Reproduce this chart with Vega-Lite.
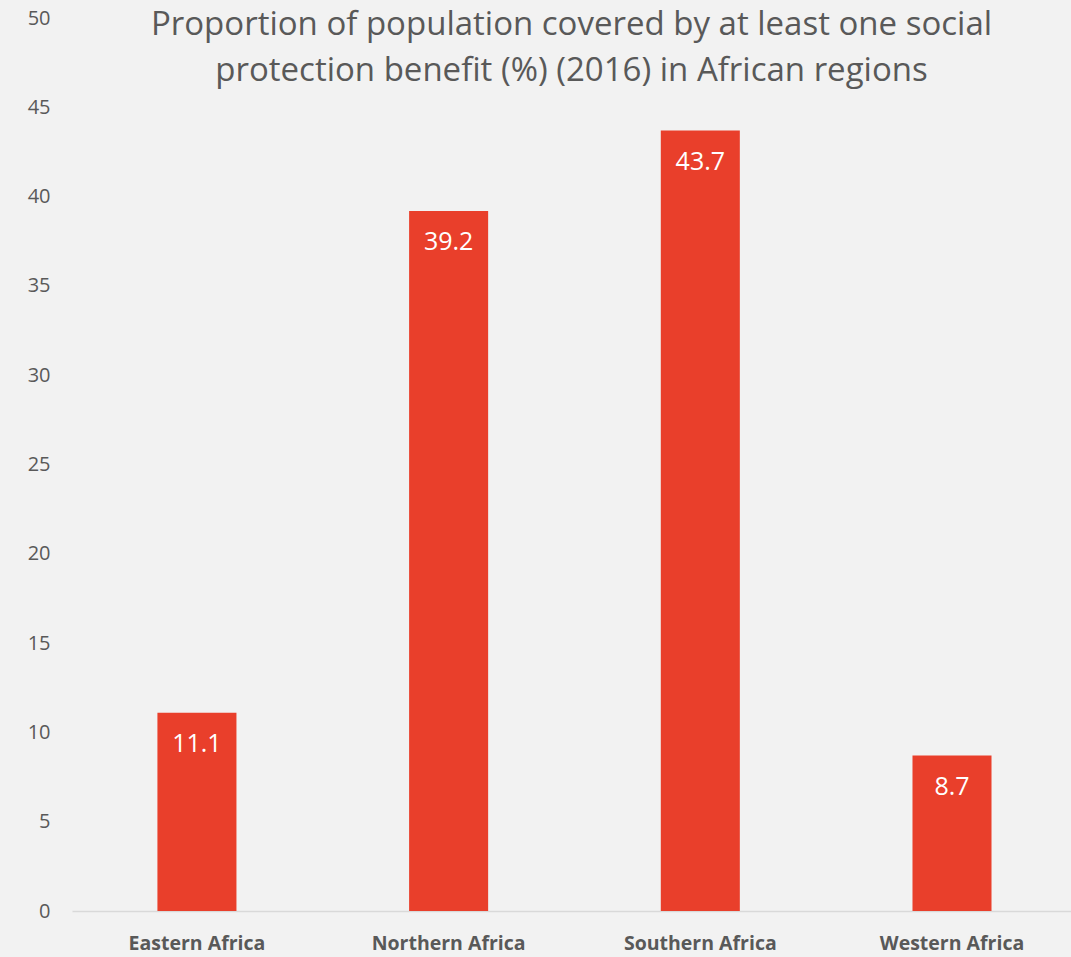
{
  "$schema": "https://vega.github.io/schema/vega-lite/v6.json",
  "autosize": {"type": "none"},
  "width": 999,
  "height": 893,
  "padding": {"left": 72, "top": 18, "right": 0, "bottom": 46},
  "background": "#f2f2f2",
  "config": {
    "view": {"stroke": null},
    "font": "Open Sans"
  },
  "title": {
    "text": ["Proportion of population covered by at least one social", "protection benefit (%) (2016) in African regions"],
    "anchor": "middle",
    "orient": "top",
    "offset": -80,
    "fontSize": 33,
    "fontWeight": "normal",
    "color": "#595959",
    "font": "Open Sans",
    "lineHeight": 46
  },
  "data": {
    "values": [
      {"region": "Eastern Africa", "value": 11.1},
      {"region": "Northern Africa", "value": 39.2},
      {"region": "Southern Africa", "value": 43.7},
      {"region": "Western Africa", "value": 8.7}
    ]
  },
  "encoding": {
    "x": {
      "field": "region",
      "type": "nominal",
      "sort": null,
      "scale": {"paddingInner": 0.686, "paddingOuter": 0.3276, "align": 0.518},
      "axis": {
        "title": null,
        "labelAngle": 0,
        "ticks": false,
        "domainColor": "#d9d9d9",
        "domainWidth": 1.5,
        "labelFont": "Open Sans",
        "labelFontSize": 19.5,
        "labelFontWeight": "bold",
        "labelColor": "#595959",
        "labelPadding": 23,
        "labelBaseline": "top"
      }
    },
    "y": {
      "field": "value",
      "type": "quantitative",
      "scale": {"domain": [0, 50], "nice": false},
      "axis": {
        "title": null,
        "values": [0, 5, 10, 15, 20, 25, 30, 35, 40, 45, 50],
        "grid": false,
        "domain": false,
        "ticks": false,
        "labelFont": "Open Sans",
        "labelFontSize": 20,
        "labelColor": "#595959",
        "labelPadding": 22
      }
    }
  },
  "layer": [
    {"mark": {"type": "bar", "color": "#E93F2B"}},
    {
      "mark": {"type": "text", "color": "white", "fontSize": 25, "baseline": "middle", "dy": 31, "font": "Open Sans"},
      "encoding": {"text": {"field": "value", "type": "quantitative", "format": ".1f"}}
    }
  ]
}
